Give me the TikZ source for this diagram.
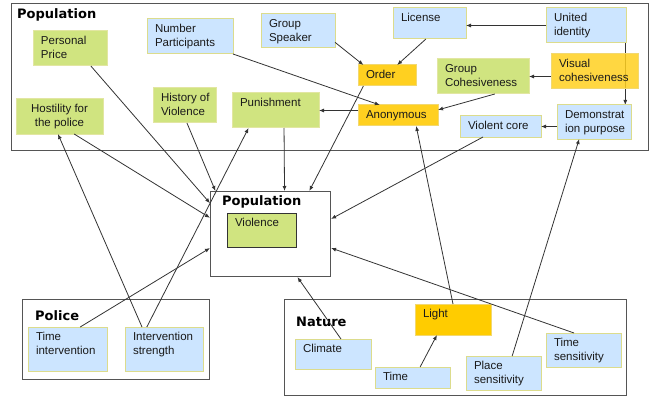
\documentclass[tikz,border=0pt]{standalone}
\usepackage{fontspec}
\setmainfont{Liberation Sans}
\newfontfamily\titlefont{DejaVu Sans}
\usepackage{tikz}
\usetikzlibrary{arrows.meta,backgrounds}
\definecolor{colorblue}{HTML}{CCE5FF}
\definecolor{colorbluedraw}{HTML}{DCDC8C}
\definecolor{colorgreen}{HTML}{D0E480}
\definecolor{colorgreendraw}{HTML}{E2E6A2}
\definecolor{coloryellow}{HTML}{FFD020}
\definecolor{coloryellowdraw}{HTML}{F2D870}
\definecolor{colorlight}{HTML}{FFCC00}
\definecolor{colorframe}{HTML}{555555}
\definecolor{colorline}{HTML}{333333}
\definecolor{colortext}{HTML}{1A1A1A}
\tikzset{
  grpframe/.style={draw=colorframe, line width=1.1pt, inner sep=0pt, anchor=north west},
  grptitle/.style={anchor=base west, inner sep=0pt, font=\titlefont\bfseries\fontsize{13}{15}\selectfont},
  varbox/.style={anchor=north west, inner xsep=8pt, inner ysep=4pt, outer sep=0pt,
    line width=1pt, text=colortext, font=\fontsize{11.5}{14}\selectfont},
  bluebox/.style={varbox, draw=colorbluedraw, fill=colorblue},
  greenbox/.style={varbox, draw=colorgreendraw, fill=colorgreen},
  yellowbox/.style={varbox, draw=coloryellowdraw, fill=coloryellow},
  arr/.style={draw=colorline, line width=0.8pt, -{Latex[length=5pt,width=4pt]}}
}
\newcommand\bt[3]{\parbox[c][#2pt][t]{#1pt}{\begin{tabular}[t]{@{}l@{}}#3\end{tabular}}}
\newcommand\btc[3]{\parbox[c][#2pt][t]{#1pt}{\centering\begin{tabular}[t]{@{}c@{}}#3\end{tabular}}}

\begin{document}
\begin{tikzpicture}[x=1pt, y=-1pt]
\useasboundingbox (0,0) rectangle (654,396);

% groups
\node[grpframe, minimum width=637pt, minimum height=147pt] (popframe) at (11,3) {};
\node[grptitle] (poptitle) at (17,19) {Population};
\node[grpframe, minimum width=120pt, minimum height=85pt] (pop) at (210,191) {};
\node[grptitle] (popinner) at (222,205) {Population};
\node[grpframe, minimum width=187pt, minimum height=80pt] (policeframe) at (22,299) {};
\node[grptitle] (policetitle) at (35,320) {Police};
\node[grpframe, minimum width=342pt, minimum height=96pt] (natureframe) at (284,299) {};
\node[grptitle] (naturetitle) at (296,326) {Nature};

% population variables
\node[greenbox] (pp) at (33,31) {\bt{58}{27}{Personal\\Price}};
\node[bluebox] (np) at (147,19) {\bt{70}{27}{Number\\Participants}};
\node[bluebox] (gs) at (261,14) {\bt{58}{26}{Group\\Speaker}};
\node[greenbox] (hp) at (16,99) {\btc{71}{27}{Hostility for\\the police}};
\node[greenbox] (hv) at (153,88) {\bt{47}{27}{History of\\Violence}};
\node[greenbox] (pu) at (232,93) {\bt{71}{27}{Punishment}};
\node[bluebox] (li) at (393,8) {\bt{57}{23}{License}};
\node[bluebox] (ui) at (546,8) {\bt{64}{27}{United\\identity}};
\node[yellowbox] (or) at (358,65) {\bt{42}{13}{Order}};
\node[greenbox] (gc) at (437,59) {\bt{76}{27}{Group\\Cohesiveness}};
\node[yellowbox, fill opacity=0.85, text opacity=1] (vc) at (551,54) {\bt{71}{27}{Visual\\cohesiveness}};
\node[yellowbox] (an) at (358,105) {\bt{64}{13}{Anonymous}};
\node[bluebox] (vi) at (460,116) {\bt{65}{13}{Violent core}};
\node[bluebox] (dp) at (557,105) {\bt{58}{26}{Demonstrat\\ion purpose}};
\node[greenbox, draw=colorline] (vio) at (227,213) {\bt{53}{26}{Violence}};

% police and nature
\node[bluebox] (ti) at (28,327) {\bt{63}{36}{Time\\intervention}};
\node[bluebox] (is) at (125,327) {\bt{62}{36}{Intervention\\strength}};
\node[bluebox] (cl) at (295,339) {\bt{60}{22}{Climate}};
\node[bluebox] (tm) at (375,367) {\bt{59}{13}{Time}};
\node[yellowbox, fill=colorlight] (lt) at (415,304) {\bt{60}{23}{Light}};
\node[bluebox] (ps) at (466,356) {\bt{59}{26}{Place\\sensitivity}};
\node[bluebox] (ts) at (546,333) {\bt{59}{26}{Time\\sensitivity}};

% influences
\draw[arr] (pp.-40) -- (pop.153);
\draw[arr] (hp.-50) -- (pop.165);
\draw[arr] (hv.-82) -- (pop.142);
\draw[arr] (is.135) -- (hp.-95);
\draw[arr] (is.128) -- (pu.-147);
\draw[arr] (ti.60) -- (pop.-167);
\draw[arr] (pu.-64) -- (pop.72);
\draw[arr] (or.-156) -- (pop.48);
\draw[arr] (vi.-149) -- (pop.14);
\draw[arr] (cl.62) -- (pop.-58);
\draw[arr] (lt.north) -- (an.-30);
\draw[arr] (tm.54) -- (lt.-136);
\draw[arr] (ps.63) -- (dp.-131);
\draw[arr] (ts.119) -- (pop.-13);
\draw[arr] (np.south east) -- (an.150);
\draw[arr] (gs.-17) -- (or.156);
\draw[arr] (li.-103) -- (or.46);
\draw[arr] (ui.west) -- (li.east |- ui.west);
\draw[arr] (vc.west |- gc) -- (gc.east);
\draw[arr] (gc.-56) -- (an.8);
\draw[arr] (an.west |- pu) -- (pu.east);
\draw[arr] (dp.west |- vi) -- (vi.east);
\begin{scope}[on background layer]
\draw[arr] (ui.-24) -- (ui.-24 |- dp.north);
\end{scope}
\end{tikzpicture}
\end{document}
